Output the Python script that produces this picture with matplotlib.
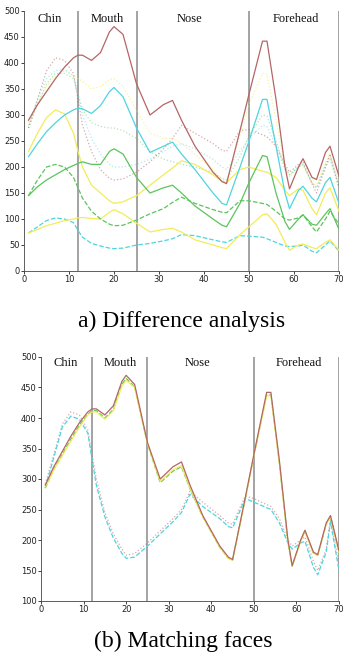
import matplotlib
matplotlib.use("Agg")
import matplotlib.pyplot as plt

# shared sample positions along the face profile
x = [1, 3, 5, 7, 9, 11, 12, 13, 15, 17, 19, 20, 22, 25, 28, 31, 33, 35, 38, 42,
     44, 45, 48, 50, 53, 54, 56, 58, 59, 61, 62, 64, 65, 67, 68, 70]

# ---- a) difference analysis ----
red = [290, 320, 345, 370, 392, 410, 415, 415, 405, 420, 460, 470, 455, 360, 300, 320, 328, 290, 240, 190,
       172, 168, 270, 340, 442, 442, 330, 200, 158, 200, 216, 180, 176, 228, 240, 182]
cyan = [220, 245, 268, 285, 300, 310, 313, 312, 303, 318, 345, 353, 335, 275, 228, 240, 248, 225, 195, 150,
        130, 127, 200, 250, 330, 330, 240, 150, 120, 155, 163, 140, 133, 170, 180, 130]
green = [145, 162, 175, 185, 195, 203, 207, 210, 205, 205, 230, 235, 225, 180, 150, 160, 165, 150, 125, 100,
         88, 85, 130, 170, 222, 220, 150, 95, 80, 100, 108, 90, 88, 110, 120, 80]
green_dash = [145, 175, 200, 205, 200, 180, 160, 140, 115, 100, 90, 87, 88, 98, 110, 120, 132, 142, 130, 118,
              113, 112, 135, 135, 130, 128, 115, 100, 98, 102, 108, 85, 75, 100, 115, 90]
yellow_low = [73, 80, 87, 92, 97, 100, 102, 103, 101, 100, 113, 118, 110, 92, 75, 80, 82, 75, 60, 50,
              45, 43, 70, 85, 108, 110, 90, 55, 40, 50, 52, 45, 43, 55, 60, 40]
cyan_dash = [73, 85, 97, 102, 100, 93, 78, 65, 53, 48, 44, 43, 44, 50, 53, 58, 62, 70, 68, 60,
             56, 55, 68, 67, 65, 62, 55, 48, 47, 48, 50, 38, 35, 50, 58, 38]
yellow_high = [230, 265, 295, 310, 302, 265, 230, 200, 165, 150, 135, 130, 133, 145, 165, 185, 198, 212, 205, 185,
               172, 170, 195, 200, 192, 190, 180, 155, 145, 158, 155, 120, 108, 150, 160, 115]
pale_yellow = [285, 320, 355, 375, 385, 375, 370, 365, 350, 355, 368, 370, 355, 310, 265, 255, 255, 245, 225, 195,
               175, 170, 260, 320, 380, 378, 290, 200, 180, 200, 205, 170, 165, 210, 225, 170]
pink_dot = [275, 330, 385, 410, 405, 380, 330, 280, 230, 195, 178, 175, 177, 190, 210, 235, 255, 280, 265, 245,
            232, 230, 270, 272, 262, 258, 240, 205, 190, 205, 210, 168, 150, 200, 225, 160]
pale_cyan = [280, 330, 370, 385, 388, 375, 340, 300, 255, 225, 205, 200, 200, 205, 215, 230, 240, 245, 235, 215,
             200, 195, 230, 255, 280, 278, 240, 195, 185, 200, 205, 170, 160, 205, 220, 165]
pale_green = [275, 320, 360, 380, 380, 370, 340, 310, 285, 278, 275, 275, 270, 255, 230, 215, 210, 205, 200, 190,
              178, 175, 220, 260, 300, 298, 250, 200, 185, 200, 205, 168, 160, 200, 215, 160]

# ---- (b) matching faces ----
b_red = red
b_yellow = [287, 315, 338, 362, 385, 405, 410, 410, 398, 412, 452, 462, 450, 358, 296, 315, 322, 285, 238, 188,
            170, 167, 268, 338, 436, 437, 325, 196, 157, 198, 214, 178, 175, 226, 238, 180]
b_green = [285, 316, 340, 365, 388, 406, 412, 412, 400, 414, 455, 465, 451, 358, 294, 313, 320, 284, 238, 188,
           170, 167, 268, 338, 438, 438, 326, 197, 157, 199, 215, 178, 175, 226, 239, 180]
b_pink = [292, 340, 390, 410, 405, 380, 340, 300, 245, 210, 185, 175, 178, 195, 215, 235, 250, 280, 262, 240,
          228, 226, 272, 268, 258, 255, 235, 200, 190, 200, 205, 165, 150, 185, 235, 160]
b_cyan = [286, 335, 385, 403, 398, 375, 332, 290, 238, 203, 178, 170, 172, 190, 210, 230, 245, 275, 255, 235,
          222, 220, 268, 262, 253, 250, 228, 195, 185, 195, 198, 155, 143, 180, 230, 150]

regions = ["Chin", "Mouth", "Nose", "Forehead"]
region_x = [5.7, 18.6, 36.7, 60.5]
boundaries = [12, 25, 50, 70]

RED = "#b56565"
CYAN = "#4fd4df"
GREEN = "#5cc45c"
YELLOW = "#f2ec5a"

W, H = 345, 664
RIGHT = 339
fig = plt.figure(figsize=(W / 100, H / 100), dpi=100)

def frame(ax, ymin, yticks, label_y):
    ax.set_xlim(0, 70)
    ax.set_ylim(ymin, 500)
    ax.set_xticks(range(0, 71, 10))
    ax.set_yticks(yticks)
    ax.tick_params(labelsize=6, length=2, width=0.6, pad=1, colors="#222222")
    ax.spines["top"].set_visible(False)
    ax.spines["right"].set_visible(False)
    for s in ["left", "bottom"]:
        ax.spines[s].set_linewidth(0.6)
        ax.spines[s].set_color("#444444")
    for b in boundaries:
        ax.axvline(b, color="#8a8a8a", lw=1.1, zorder=1)
    for name, rx in zip(regions, region_x):
        ax.text(rx, label_y, name, ha="center", va="center",
                family="Liberation Serif", fontsize=9, color="#111111")

# top panel
ax1 = fig.add_axes([24 / W, 1 - 271 / H, (RIGHT - 24) / W, 260 / H])
frame(ax1, 0, range(0, 501, 50), 484)
lw = 0.9
ax1.plot(x, pale_green, color=GREEN, lw=lw, ls=":", alpha=0.45)
ax1.plot(x, pale_cyan, color=CYAN, lw=lw, ls=":", alpha=0.45)
ax1.plot(x, pale_yellow, color=YELLOW, lw=lw, ls=":", alpha=0.6)
ax1.plot(x, pink_dot, color=RED, lw=lw, ls=":", alpha=0.55)
ax1.plot(x, yellow_high, color=YELLOW, lw=lw)
ax1.plot(x, cyan_dash, color=CYAN, lw=lw, ls="--")
ax1.plot(x, yellow_low, color=YELLOW, lw=lw)
ax1.plot(x, green_dash, color=GREEN, lw=lw, ls="--")
ax1.plot(x, green, color=GREEN, lw=lw)
ax1.plot(x, cyan, color=CYAN, lw=lw)
ax1.plot(x, red, color=RED, lw=lw)

# bottom panel
ax2 = fig.add_axes([41 / W, 1 - 601 / H, (RIGHT - 41) / W, 244 / H])
frame(ax2, 100, range(100, 501, 50), 490)
ax2.plot(x, b_pink, color=RED, lw=lw, ls=":", alpha=0.55)
ax2.plot(x, b_cyan, color=CYAN, lw=lw, ls="--")
ax2.plot(x, b_green, color=GREEN, lw=lw, ls="--")
ax2.plot(x, b_yellow, color=YELLOW, lw=lw)
ax2.plot(x, b_red, color=RED, lw=lw)

fig.text(182 / W, 1 - 321 / H, "a) Difference analysis", ha="center", va="center",
         family="Liberation Serif", fontsize=17)
fig.text(183 / W, 1 - 641 / H, "(b) Matching faces", ha="center", va="center",
         family="Liberation Serif", fontsize=17)

fig.savefig("out.png", dpi=100)
